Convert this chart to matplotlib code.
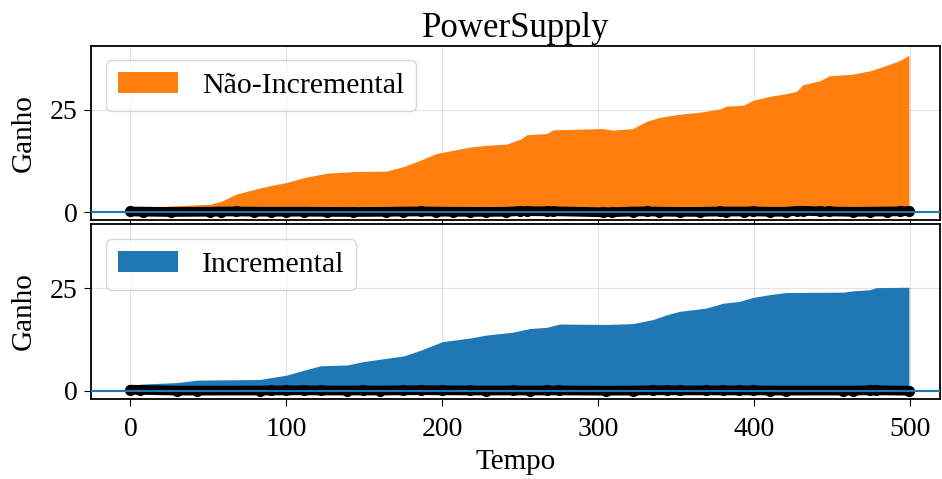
import numpy as np
from matplotlib import pyplot as plt

# cumulative gain (time, value)
t_nao = [0, 8, 26, 51, 58, 68, 79, 90, 100, 111, 126, 143, 164, 175, 186, 196, 207, 218, 228, 241,
         250, 254, 267, 271, 303, 309, 322, 331, 339, 352, 365, 378, 382, 393, 399, 410, 420, 427,
         431, 442, 448, 463, 474, 485, 493, 499]
g_nao = [0.0, 1.1, 1.5, 1.9, 2.6, 4.4, 5.5, 6.5, 7.2, 8.4, 9.5, 9.9, 10.0, 11.1, 12.7, 14.3, 15.1, 15.9,
         16.3, 16.6, 17.8, 18.9, 19.2, 20.1, 20.4, 20.0, 20.4, 22.2, 23.1, 23.9, 24.4, 25.2, 25.9, 26.1,
         27.3, 28.3, 28.9, 29.5, 31.1, 32.1, 33.3, 33.7, 34.5, 35.9, 37.0, 38.3]

t_inc = [0, 6, 30, 43, 83, 90, 100, 111, 122, 139, 149, 160, 175, 186, 200, 218, 228, 245, 256, 267,
         275, 305, 322, 335, 344, 352, 369, 380, 390, 399, 410, 420, 457, 463, 474, 478, 499]
g_inc = [0.0, 1.6, 2.0, 2.6, 2.75, 3.2, 3.8, 5.0, 6.1, 6.3, 7.1, 7.7, 8.5, 9.9, 12.0, 12.9, 13.6, 14.3,
         15.2, 15.5, 16.3, 16.2, 16.4, 17.4, 18.6, 19.4, 20.2, 21.4, 21.8, 22.8, 23.5, 24.0, 24.1, 24.4,
         24.7, 25.2, 25.3]

plt.rcParams['font.family'] = ['Liberation Serif', 'DejaVu Serif']
plt.rcParams['font.size'] = 21

fig, axs = plt.subplots(2, 1, figsize=(9.42, 4.79), dpi=100, sharex=True, sharey=True)
fig.subplots_adjust(left=0.097, right=0.998, top=0.905, bottom=0.168, hspace=0.025)

series = [(axs[0], t_nao, g_nao, 'tab:orange', 'Não-Incremental'),
          (axs[1], t_inc, g_inc, 'tab:blue', 'Incremental')]

for ax, t, g, c, lab in series:
    t = np.array(t, dtype=float)
    g = np.array(g)
    ax.fill_between(t, 0, g, color=c, label=lab, linewidth=0, zorder=2)
    # per-step gain (slope of the cumulative curve)
    step_gain = np.gradient(g, t)
    ax.plot(t, step_gain, color='black', marker='o', markersize=7, linewidth=7,
            solid_capstyle='round', zorder=3)
    ax.axhline(0, color='tab:blue', linewidth=1.5, zorder=4)
    ax.grid(True, alpha=0.35)
    ax.set_axisbelow(True)
    ax.set_ylabel('Ganho', fontsize=21, labelpad=9)
    ax.legend(loc='upper left', fontsize=21.5)
    ax.tick_params(labelsize=20, length=5, pad=5)
    ax.tick_params(axis='x', pad=8)
    for s in ax.spines.values():
        s.set_linewidth(1.3)

axs[0].set_xlim(-25, 519)
axs[0].set_ylim(-1.9, 40.7)
axs[0].set_yticks([0, 25])
axs[0].set_title('PowerSupply', fontsize=25)
axs[1].set_xticks([0, 100, 200, 300, 400, 500])
axs[1].set_xlabel('Tempo', fontsize=21, labelpad=5)

plt.savefig('out.png')
